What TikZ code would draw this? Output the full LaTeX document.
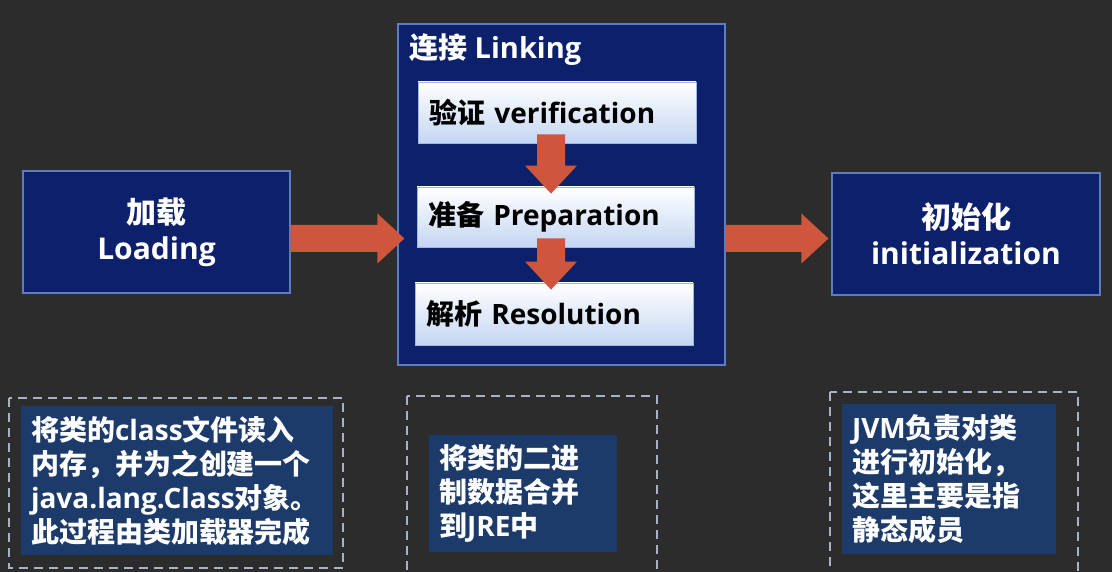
\documentclass[tikz,border=0pt]{standalone}
\usepackage{fontspec}
\setmainfont{Open Sans}
\newfontfamily\zhfont{Noto Sans CJK SC}
\newcommand\zh[1]{{\zhfont #1}}
\usetikzlibrary{calc}

\definecolor{board}{RGB}{44,44,44}
\definecolor{navy}{RGB}{12,32,108}
\definecolor{navyedge}{RGB}{95,125,190}
\definecolor{notefill}{RGB}{28,58,106}
\definecolor{paleblue}{RGB}{196,214,242}
\definecolor{paleedge}{RGB}{160,182,222}
\definecolor{arrowred}{RGB}{206,86,60}
\definecolor{dashgray}{RGB}{168,178,198}

\begin{document}
\begin{tikzpicture}[x=1pt,y=-1pt,
    stage/.style={draw=navyedge, line width=1.2pt, fill=navy, text=white, align=center,
      font=\fontsize{30}{36}\selectfont\bfseries},
    substep/.style={draw=paleedge, line width=0.8pt, top color=white, bottom color=paleblue,
      text=black, align=left, inner sep=11pt, minimum height=61pt,
      font=\fontsize{28}{34}\selectfont\bfseries},
    note/.style={fill=notefill, text=white, align=left, inner sep=10pt,
      font=\fontsize{28}{34}\selectfont\bfseries},
    frame/.style={draw=dashgray, line width=1.4pt, dash pattern=on 9pt off 6pt},
    blockarrow/.style={fill=arrowred}]
  \useasboundingbox (0,0) rectangle (1112,572);
  \clip (0,0) rectangle (1112,572);
  \fill[board] (0,0) rectangle (1112,572);

  \node[stage, minimum width=267pt, minimum height=122pt] (load) at (156.5,232) {\zh{加载}\\Loading};
  \node[stage, minimum width=327pt, minimum height=341pt] (link) at (561.5,194.5) {};
  \node[anchor=west, text=white, inner sep=0pt, font=\fontsize{29}{35}\selectfont\bfseries] (linktitle) at (409,50) {\zh{连接} Linking};
  \node[substep, text width=256pt] (verif) at (557,112.5) {\zh{验证} verification};
  \node[substep, text width=255pt, minimum height=60pt] (prep) at (555.5,217) {\zh{准备} Preparation};
  \node[substep, text width=256pt, minimum height=62pt] (resol) at (554,314) {\zh{解析} Resolution};
  \node[stage, minimum width=268pt, minimum height=122pt] (init) at (966,234) {\zh{初始化}\\initialization};

  \coordinate (ay) at (0,238.5);
  \coordinate (ax) at (551,0);
  \foreach \s/\t/\d in {load/link/7pt,link/init/-3pt}
    \fill[blockarrow] let \p1=(\s.east |- ay), \p2=(\t.west |- ay) in
      (\x1,\y1+13.5pt) -- (\x2+\d-27pt,\y1+13.5pt) -- (\x2+\d-27pt,\y1+25pt) -- (\x2+\d,\y1)
      -- (\x2+\d-27pt,\y1-25pt) -- (\x2+\d-27pt,\y1-13.5pt) -- (\x1,\y1-13.5pt) -- cycle;
  \foreach \s/\t in {verif/prep,prep/resol}
    \fill[blockarrow] let \p1=(ax |- \s.south), \p2=(ax |- \t.north) in
      (\x1-14pt,\y1+9pt) -- (\x1-14pt,\y2+21pt) -- (\x1-26pt,\y2+21pt) -- (\x1,\y2-7pt)
      -- (\x1+26pt,\y2+21pt) -- (\x1+14pt,\y2+21pt) -- (\x1+14pt,\y1+9pt) -- cycle;

  \draw[frame] (9,398) rectangle (343,568);
  \draw[frame] (407,396) rectangle (657,590);
  \draw[frame] (830,392) rectangle (1078,590);
  \node[note, text width=292pt, minimum height=149pt] (noteload) at (177,480.5)
    {\zh{将类的}class\zh{文件读入}\\\zh{内存，并为之创建一个}\\java.lang.Class\zh{对象。}\\\zh{此过程由类加载器完成}};
  \node[note, text width=168pt, minimum height=113pt] (notelink) at (523,493.5)
    {\zh{将类的二进}\\\zh{制数据合并}\\\zh{到}JRE\zh{中}};
  \node[note, text width=194pt, minimum height=148pt] (noteinit) at (949,479)
    {JVM\zh{负责对类}\\\zh{进行初始化，}\\\zh{这里主要是指}\\\zh{静态成员}};
\end{tikzpicture}
\end{document}
